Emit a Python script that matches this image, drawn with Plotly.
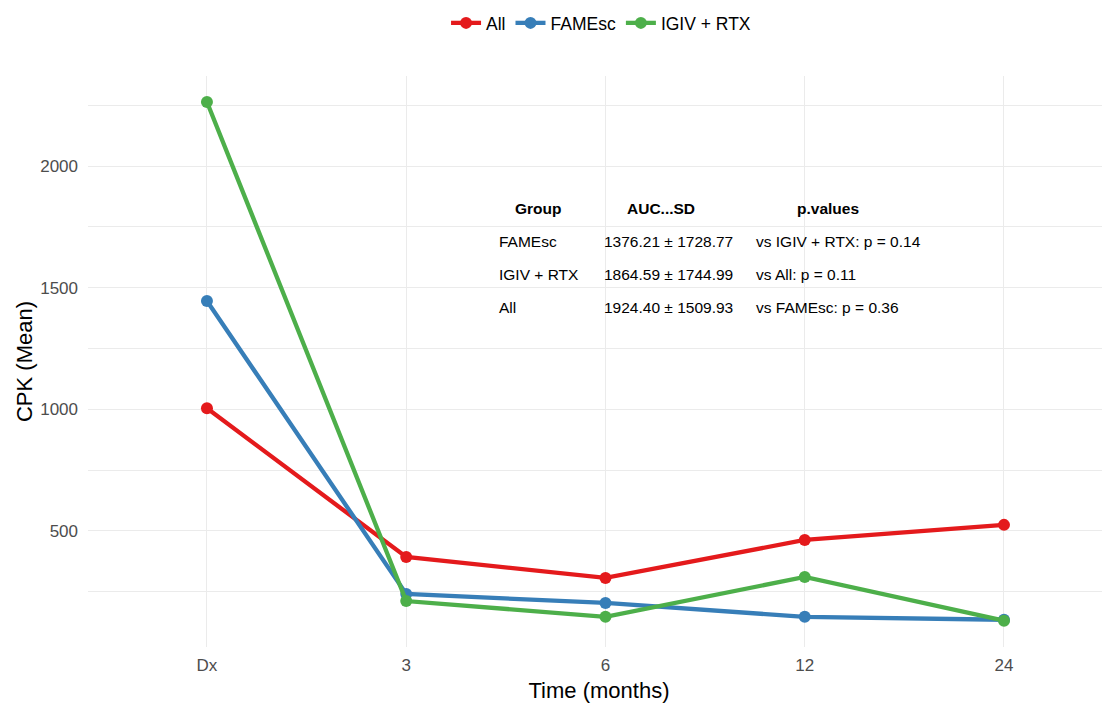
import plotly.graph_objects as go

# ---- data ----
time_labels = ["Dx", "3", "6", "12", "24"]
series_names = ["All", "FAMEsc", "IGIV + RTX"]
all_values = [1004, 393, 307, 463, 525]
famesc_values = [1445, 241, 204, 147, 135]
igiv_rtx_values = [2263, 212, 147, 311, 131]

y_tick_values = [500, 1000, 1500, 2000]
y_minor_values = [250, 750, 1250, 1750, 2250]

table_header = ["Group", "AUC...SD", "p.values"]
table_group = ["FAMEsc", "IGIV + RTX", "All"]
table_auc = ["1376.21 ± 1728.77", "1864.59 ± 1744.99", "1924.40 ± 1509.93"]
table_p = ["vs IGIV + RTX: p = 0.14", "vs All: p = 0.11", "vs FAMEsc: p = 0.36"]

colors = ["#E41A1C", "#377EB8", "#4DAF4A"]
FONT = "Liberation Sans, Arial, sans-serif"

fig = go.Figure()
for name, vals, col in zip(series_names, [all_values, famesc_values, igiv_rtx_values], colors):
    fig.add_trace(go.Scatter(
        x=time_labels, y=vals, name=name, mode="lines+markers",
        line=dict(color=col, width=4.3),
        marker=dict(color=col, size=12),
    ))

# page has an 8px body margin; target plot area in page px: x 88..1110, y 76..647
OFF = 8
W, H = 1110, 704
L, R, T, B = 88 - OFF, OFF, 76 - OFF, 57 + OFF
pw = W - L - R
ph = H - T - B

def px(x):
    return (x - OFF - L) / pw

def py(y):
    return (H - B - (y - OFF)) / ph

annotations = []
header_x = [538, 661, 828]
for txt, xpos in zip(table_header, header_x):
    annotations.append(dict(
        x=px(xpos), y=py(208), xref="paper", yref="paper", text="<b>" + txt + "</b>",
        showarrow=False, xanchor="center", yanchor="middle",
        font=dict(family=FONT, size=15.5, color="black")))
row_y = [241, 274, 307]
for i in range(len(table_group)):
    for txt, xpos in zip([table_group[i], table_auc[i], table_p[i]], [497, 602, 754]):
        annotations.append(dict(
            x=px(xpos), y=py(row_y[i]), xref="paper", yref="paper", text=txt,
            showarrow=False, xanchor="left", yanchor="middle",
            font=dict(family=FONT, size=15.5, color="black")))

fig.update_layout(
    width=W, height=H,
    margin=dict(l=L, r=R, t=T, b=B),
    paper_bgcolor="white", plot_bgcolor="white",
    font=dict(family=FONT, size=17, color="#4D4D4D"),
    showlegend=True,
    legend=dict(orientation="h", xref="paper", x=0.502, xanchor="center",
                yref="container", y=1 - 15 / H, yanchor="middle",
                font=dict(family=FONT, size=17.5, color="black")),
    annotations=annotations,
    xaxis=dict(
        type="category", categoryorder="array", categoryarray=time_labels,
        range=[-0.597, 4.532],
        showgrid=True, gridcolor="#EBEBEB", gridwidth=1.2,
        zeroline=False, showline=False, ticks="",
        ticklabelstandoff=6,
        tickfont=dict(family=FONT, size=17, color="#4D4D4D"),
        title=dict(text="Time (months)", font=dict(family=FONT, size=22, color="black"), standoff=8),
    ),
    yaxis=dict(
        range=[23, 2370],
        tickvals=y_tick_values,
        showgrid=True, gridcolor="#EBEBEB", gridwidth=1.2,
        minor=dict(tickvals=y_minor_values, showgrid=True, gridcolor="#EBEBEB", gridwidth=1),
        zeroline=False, showline=False, ticks="",
        ticklabelstandoff=9,
        tickfont=dict(family=FONT, size=17, color="#4D4D4D"),
        title=dict(text="CPK (Mean)", font=dict(family=FONT, size=22, color="black"), standoff=1),
    ),
)

fig.write_html("out.html")
